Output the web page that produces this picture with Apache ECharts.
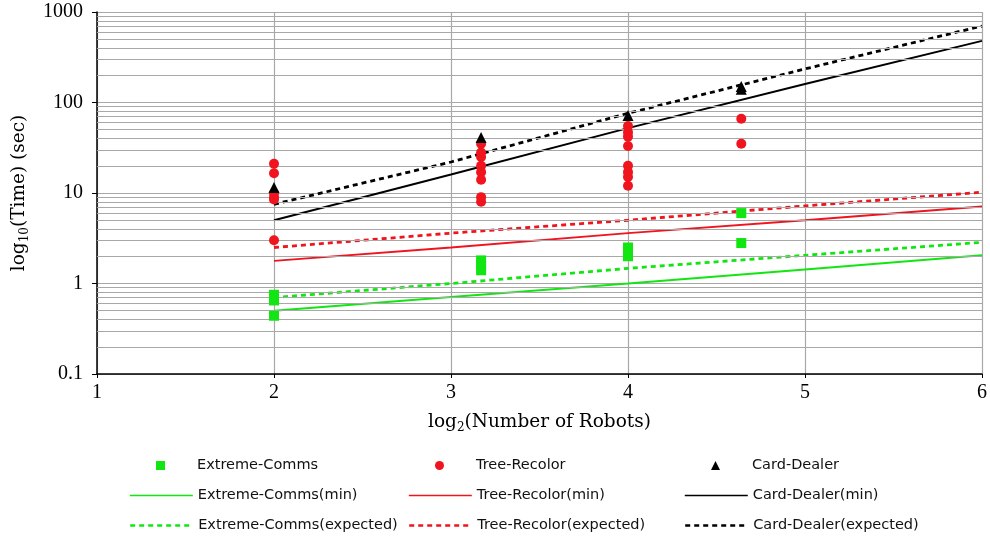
<!DOCTYPE html>
<html>
<head>
<meta charset="utf-8">
<script src="https://cdn.jsdelivr.net/npm/echarts@6/dist/echarts.min.js"></script>
<style>html,body{margin:0;padding:0;background:#fff}#c{width:990px;height:540px}</style>
</head>
<body>
<div id="c"></div>
<script>
// ---- data (x = log2(number of robots), y = time in sec) ----
const lineX = [2, 3, 4, 5, 6];
const cardDealerMin = [5.0, 16, 52, 160, 480];
const cardDealerExp = [7.5, 22, 76, 235, 700];
const treeRecolorMin = [1.78, 2.5, 3.6, 5.0, 7.1];
const treeRecolorExp = [2.5, 3.6, 5.0, 7.2, 10.2];
const extremeCommsMin = [0.5, 0.71, 1.0, 1.43, 2.05];
const extremeCommsExp = [0.70, 1.0, 1.47, 2.05, 2.85];

const extremeCommsX = [2, 2, 2, 3.17, 3.17, 3.17, 4, 4, 4, 4.64, 4.64];
const extremeCommsY = [0.75, 0.65, 0.44, 1.8, 1.6, 1.4, 2.5, 2.2, 2.0, 6.0, 2.8];
const treeRecolorX = [2, 2, 2, 2, 2, 2, 3.17, 3.17, 3.17, 3.17, 3.17, 3.17, 3.17, 3.17, 4, 4, 4, 4, 4, 4, 4, 4, 4.64, 4.64];
const treeRecolorY = [21, 16.5, 10, 9, 8.5, 3.0, 35, 28, 25, 20, 17, 14, 9, 8, 55, 47, 42, 33, 20, 17, 15, 12, 66, 35];
const cardDealerX = [2, 3.17, 4, 4.64, 4.64];
const cardDealerY = [11.5, 41, 72, 150, 140];

const xTicks = [1, 2, 3, 4, 5, 6];
const yMinorGrid = [0.2,0.3,0.4,0.5,0.6,0.7,0.8,0.9, 2,3,4,5,6,7,8,9, 20,30,40,50,60,70,80,90, 200,300,400,500,600,700,800,900];

const GREEN = '#12e612', RED = '#f0141e', BLACK = '#000000';
const SERIF = '"Liberation Serif", "DejaVu Serif", serif';
const NAMESERIF = '"DejaVu Serif", "Liberation Serif", serif';
const SANS = '"DejaVu Sans", sans-serif';

const zip = (xs, ys) => xs.map((x, i) => [x, ys[i]]);

function lineSeries(name, ys, color, dashed) {
  return {
    name, type: 'line', data: zip(lineX, ys), symbol: 'none', z: 3,
    lineStyle: dashed ? { color, width: 2.8, type: [5, 4] } : { color, width: 1.9 },
    itemStyle: { color }, animation: false
  };
}
function scatterSeries(name, xs, ys, color, symbol, size) {
  return { name, type: 'scatter', data: zip(xs, ys), symbol, symbolSize: size, z: 5,
    itemStyle: { color, opacity: 1 }, animation: false };
}

const series = [
  { name: 'minorGrid', type: 'line', data: [], z: 1, silent: true,
    markLine: { silent: true, symbol: 'none', label: { show: false }, animation: false,
      lineStyle: { color: '#a8a8a8', width: 1.2, type: 'solid' },
      data: yMinorGrid.map(v => ({ yAxis: v })) } },
  lineSeries('Extreme-Comms(min)', extremeCommsMin, GREEN, false),
  lineSeries('Tree-Recolor(min)', treeRecolorMin, RED, false),
  lineSeries('Card-Dealer(min)', cardDealerMin, BLACK, false),
  lineSeries('Extreme-Comms(expected)', extremeCommsExp, GREEN, true),
  lineSeries('Tree-Recolor(expected)', treeRecolorExp, RED, true),
  lineSeries('Card-Dealer(expected)', cardDealerExp, BLACK, true),
  scatterSeries('Extreme-Comms', extremeCommsX, extremeCommsY, GREEN, 'rect', 10),
  scatterSeries('Tree-Recolor', treeRecolorX, treeRecolorY, RED, 'circle', 10),
  scatterSeries('Card-Dealer', cardDealerX, cardDealerY, BLACK, 'triangle', 11)
];

const legendCols = [129, 408, 684];
const legendRows = [464, 494, 524];
const legendNames = [
  ['Extreme-Comms', 'Tree-Recolor', 'Card-Dealer'],
  ['Extreme-Comms(min)', 'Tree-Recolor(min)', 'Card-Dealer(min)'],
  ['Extreme-Comms(expected)', 'Tree-Recolor(expected)', 'Card-Dealer(expected)']
];
const legends = [];
legendNames.forEach((row, r) => row.forEach((name, c) => {
  const marker = r === 0;
  const lg = {
    data: [name], selectedMode: false, padding: 0, itemGap: 0,
    left: marker ? legendCols[c] + 27 : legendCols[c],
    top: legendRows[r] - 6,
    itemWidth: marker ? 9 : 63, itemHeight: marker ? 9 : 14,
    textStyle: { fontFamily: SANS, fontSize: 14.5, color: '#111',
      padding: marker ? [0, 0, 0, 27] : 0 }
  };
  if (!marker) {
    lg.itemStyle = { opacity: 0 };
    lg.lineStyle = { width: r === 2 ? 2.4 : 1.6 };
  }
  legends.push(lg);
}));

const nameRich = {
  a: { fontFamily: NAMESERIF, fontSize: 18.5, color: '#000', lineHeight: 24 },
  s: { fontFamily: NAMESERIF, fontSize: 12, color: '#000', lineHeight: 13, verticalAlign: 'bottom' }
};

const chart = echarts.init(document.getElementById('c'), null, { renderer: 'canvas' });
chart.setOption({
  backgroundColor: '#fff',
  animation: false,
  grid: { left: 97, right: 8, top: 12, bottom: 166, containLabel: false },
  legend: legends,
  xAxis: {
    type: 'value', min: 1, max: 6, interval: 1,
    name: '{a|log}{s|2}{a|(Number of Robots)}', nameLocation: 'middle', nameGap: 36,
    nameTextStyle: { rich: nameRich },
    axisLine: { lineStyle: { color: '#000', width: 1.5 } },
    axisTick: { show: true, length: 4, lineStyle: { color: '#000', width: 1 } },
    axisLabel: { fontFamily: SERIF, fontSize: 20, color: '#000', margin: 9,
      formatter: v => xTicks.includes(v) ? String(v) : '' },
    splitLine: { show: true, lineStyle: { color: '#a8a8a8', width: 1.2 } }
  },
  yAxis: {
    type: 'log', logBase: 10, min: 0.1, max: 1000,
    name: '{a|log}{s|10}{a|(Time) (sec)}', nameLocation: 'middle', nameGap: 66, nameRotate: 90,
    nameTextStyle: { rich: nameRich },
    axisLine: { show: true, lineStyle: { color: '#000', width: 1.5 } },
    axisTick: { show: true, length: 5, lineStyle: { color: '#000', width: 1 } },
    axisLabel: { fontFamily: SERIF, fontSize: 20, color: '#000', margin: 14,
      formatter: v => String(Number(v.toPrecision(6))) },
    splitLine: { show: true, lineStyle: { color: '#a8a8a8', width: 1.2 } },
    minorTick: { show: false }
  },
  series
});
</script>
</body>
</html>
